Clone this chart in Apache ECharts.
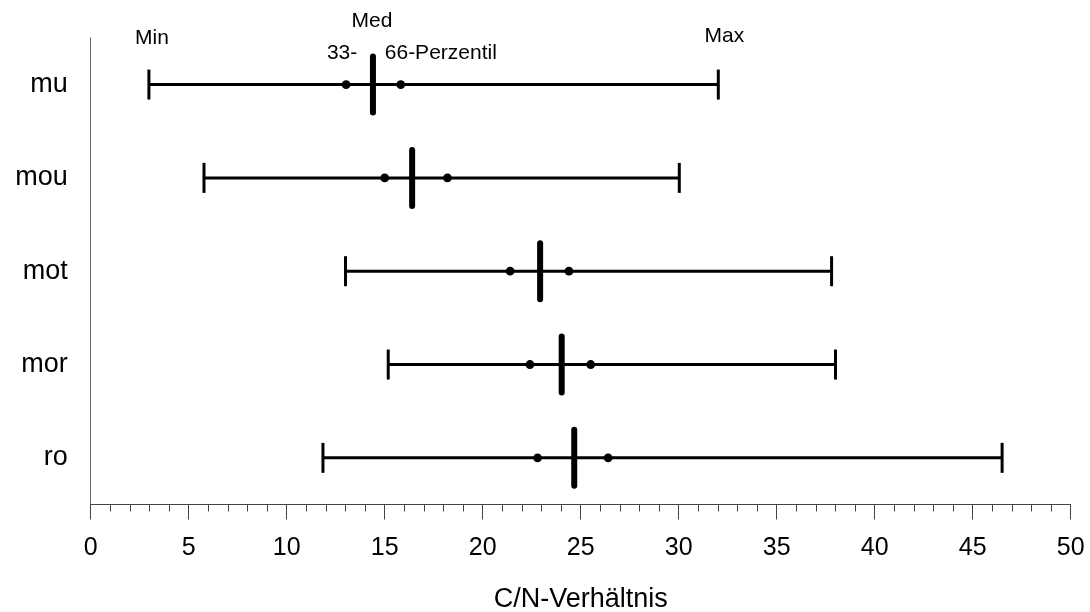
<!DOCTYPE html>
<html>
<head>
<meta charset="utf-8">
<script src="https://cdn.jsdelivr.net/npm/echarts@6/dist/echarts.min.js"></script>
<style>
  html, body { margin: 0; padding: 0; background: #fff; }
  #chart { width: 1090px; height: 612px; }
</style>
</head>
<body>
<div id="chart"></div>
<script>
// C/N ratio per horizon: min, 33rd percentile, median, 66th percentile, max
var categories = ['mu', 'mou', 'mot', 'mor', 'ro'];
var minVals = [2.97, 5.78, 13.0, 15.18, 11.85];
var p33Vals = [13.03, 15.0, 21.4, 22.41, 22.8];
var medVals = [14.4, 16.4, 22.93, 24.03, 24.67];
var p66Vals = [15.82, 18.2, 24.4, 25.51, 26.4];
var maxVals = [32.02, 30.03, 37.8, 38.0, 46.5];
var xTicks = [0, 5, 10, 15, 20, 25, 30, 35, 40, 45, 50];

// legend-like labels above the first row
var noteTexts = ['Min', 'Med', '33-', '66-Perzentil', 'Max'];

var font = '"Liberation Sans", Arial, sans-serif';

var rows = categories.map(function (c, i) {
    return [i, minVals[i], p33Vals[i], medVals[i], p66Vals[i], maxVals[i]];
});

function renderRow(params, api) {
    var idx = api.value(0);
    var pMin = api.coord([api.value(1), idx]);
    var p33 = api.coord([api.value(2), idx]);
    var pMed = api.coord([api.value(3), idx]);
    var p66 = api.coord([api.value(4), idx]);
    var pMax = api.coord([api.value(5), idx]);
    var y = pMin[1];
    var stroke = { stroke: '#000', lineWidth: 3 };
    var kids = [
        { type: 'line', shape: { x1: pMin[0], y1: y, x2: pMax[0], y2: y }, style: stroke },
        { type: 'line', shape: { x1: pMin[0], y1: y - 15, x2: pMin[0], y2: y + 15 }, style: stroke },
        { type: 'line', shape: { x1: pMax[0], y1: y - 15, x2: pMax[0], y2: y + 15 }, style: stroke },
        { type: 'line', shape: { x1: pMed[0], y1: y - 28, x2: pMed[0], y2: y + 28 },
          style: { stroke: '#000', lineWidth: 6, lineCap: 'round' } },
        { type: 'circle', shape: { cx: p33[0], cy: y, r: 4.4 }, style: { fill: '#000' } },
        { type: 'circle', shape: { cx: p66[0], cy: y, r: 4.4 }, style: { fill: '#000' } }
    ];
    if (params.dataIndex === 0) {
        var ts = function (txt, x, yy, align) {
            return { type: 'text', x: x, y: yy,
                style: { text: txt, fill: '#000', font: '21px ' + font,
                         textAlign: align || 'center', textVerticalAlign: 'middle' } };
        };
        kids.push(ts(noteTexts[0], pMin[0] + 3, y - 46));
        kids.push(ts(noteTexts[1], pMed[0] - 1, y - 63));
        kids.push(ts(noteTexts[2], p33[0] - 4, y - 31));
        kids.push(ts(noteTexts[3], p66[0] - 16, y - 31, 'left'));
        kids.push(ts(noteTexts[4], pMax[0] + 6, y - 48));
    }
    return { type: 'group', children: kids };
}

var chart = echarts.init(document.getElementById('chart'), null, { renderer: 'canvas' });

chart.setOption({
    animation: false,
    backgroundColor: '#fff',
    grid: { left: 90.7, right: 19.3, top: 37.9, bottom: 107.5, containLabel: false, outerBoundsMode: 'none' },
    xAxis: {
        type: 'value',
        min: xTicks[0],
        max: xTicks[xTicks.length - 1],
        interval: 5,
        name: 'C/N-Verhältnis',
        nameLocation: 'middle',
        nameGap: 82,
        nameTextStyle: { fontFamily: font, fontSize: 27, color: '#000' },
        axisLine: { show: true, onZero: false, lineStyle: { color: '#444', width: 1 } },
        axisTick: { show: true, length: 15, lineStyle: { color: '#444' } },
        minorTick: { show: true, splitNumber: 5, length: 7, lineStyle: { color: '#444' } },
        splitLine: { show: false },
        axisLabel: { fontFamily: font, fontSize: 25, color: '#000', margin: 31 }
    },
    yAxis: {
        type: 'category',
        data: categories,
        inverse: true,
        axisLine: { show: true, lineStyle: { color: '#666', width: 1 } },
        axisTick: { show: false },
        splitLine: { show: false },
        axisLabel: { fontFamily: font, fontSize: 27, color: '#000', margin: 23 }
    },
    series: [
        {
            type: 'custom',
            renderItem: renderRow,
            encode: { x: [1, 2, 3, 4, 5], y: 0 },
            data: rows,
            clip: false,
            z: 3
        }
    ]
});
</script>
</body>
</html>
